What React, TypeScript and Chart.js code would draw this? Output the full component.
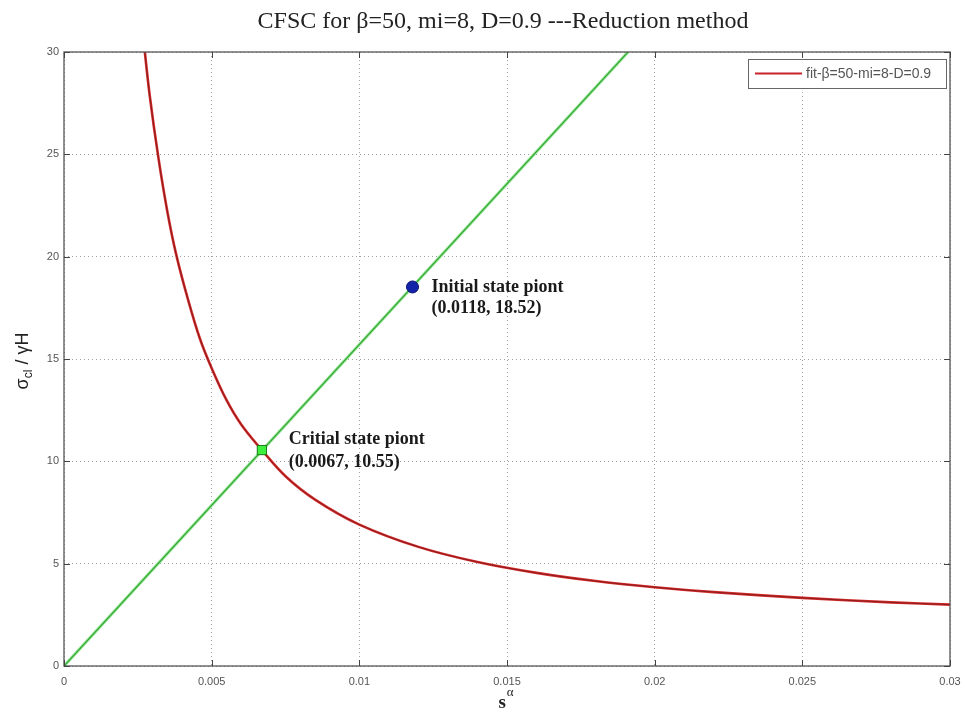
import React, { useEffect, useRef } from 'react';
import { Chart, registerables } from 'chart.js';

Chart.register(...registerables);

const chartTitle = 'CFSC for β=50, mi=8, D=0.9 ---Reduction method';
const legendLabel = 'fit-β=50-mi=8-D=0.9';

const xTickValues = [0, 0.005, 0.01, 0.015, 0.02, 0.025, 0.03];
const xTickLabels = ['0', '0.005', '0.01', '0.015', '0.02', '0.025', '0.03'];
const yTickValues = [0, 5, 10, 15, 20, 25, 30];
const yTickLabels = ['0', '5', '10', '15', '20', '25', '30'];

// red fitted curve
const fitX = [0.0027, 0.0029, 0.0032, 0.0035, 0.0038, 0.0042, 0.0046, 0.005, 0.0055, 0.006, 0.0067, 0.0075, 0.0085, 0.01, 0.012, 0.014, 0.016, 0.018, 0.02, 0.022, 0.025, 0.028, 0.03];
const fitY = [30.5, 27.9, 24.8, 22.2, 20.1, 17.9, 16.0, 14.55, 13.0, 11.8, 10.55, 9.27, 8.13, 6.91, 5.82, 5.08, 4.55, 4.15, 3.85, 3.61, 3.33, 3.11, 3.0];

// green straight line through the origin
const lineX = [0, 0.0191];
const lineY = [0, 30];

const initialState = { x: 0.0118, y: 18.52 };
const criticalState = { x: 0.0067, y: 10.55 };
const initialLabel = ['Initial state piont', '(0.0118, 18.52)'];
const criticalLabel = ['Critial state piont', '(0.0067, 10.55)'];

const overlayPlugin = {
  id: 'overlay',
  afterDraw(chart: any) {
    const { ctx, chartArea: a, scales } = chart;
    const x = scales.x;
    const y = scales.y;
    ctx.save();
    // box
    ctx.strokeStyle = '#555';
    ctx.lineWidth = 1.3;
    ctx.setLineDash([]);
    ctx.strokeRect(a.left, a.top, a.right - a.left, a.bottom - a.top);
    // inner ticks
    ctx.lineWidth = 1;
    ctx.strokeStyle = '#444';
    ctx.beginPath();
    xTickValues.forEach((v) => {
      const px = Math.round(x.getPixelForValue(v)) + 0.5;
      ctx.moveTo(px, a.bottom);
      ctx.lineTo(px, a.bottom - 6);
      ctx.moveTo(px, a.top);
      ctx.lineTo(px, a.top + 6);
    });
    yTickValues.forEach((v) => {
      const py = Math.round(y.getPixelForValue(v)) + 0.5;
      ctx.moveTo(a.left, py);
      ctx.lineTo(a.left + 6, py);
      ctx.moveTo(a.right, py);
      ctx.lineTo(a.right - 6, py);
    });
    ctx.stroke();

    // title
    ctx.fillStyle = '#222';
    ctx.font = '24px "Liberation Serif", "Times New Roman", serif';
    ctx.textAlign = 'center';
    ctx.textBaseline = 'middle';
    ctx.fillText(chartTitle, 503, 22);

    // x axis label s^α
    ctx.textAlign = 'left';
    ctx.textBaseline = 'alphabetic';
    ctx.font = 'bold 19px "Liberation Serif", serif';
    const sW = ctx.measureText('s').width;
    ctx.font = '13px "Liberation Serif", serif';
    const aW = ctx.measureText('α').width;
    const sx = 506 - (sW + aW + 1) / 2;
    ctx.font = 'bold 19px "Liberation Serif", serif';
    ctx.fillText('s', sx, 708);
    ctx.font = '13px "Liberation Serif", serif';
    ctx.fillText('α', sx + sW + 1, 696);

    // y axis label σcl / γH
    ctx.save();
    ctx.translate(22, 361);
    ctx.rotate(-Math.PI / 2);
    ctx.fillStyle = '#222';
    const big = '18px "Liberation Sans", Arial, sans-serif';
    const small = '12px "Liberation Sans", Arial, sans-serif';
    ctx.font = big;
    const w1 = ctx.measureText('σ').width;
    const w3 = ctx.measureText(' / γH').width;
    ctx.font = small;
    const w2 = ctx.measureText('cl').width;
    let cx = -(w1 + w2 + w3) / 2;
    ctx.font = big;
    ctx.fillText('σ', cx, 6);
    cx += w1;
    ctx.font = small;
    ctx.fillText('cl', cx, 10);
    cx += w2;
    ctx.font = big;
    ctx.fillText(' / γH', cx, 6);
    ctx.restore();

    // legend
    const lr = a.right - 4;
    const ll = lr - 198;
    ctx.fillStyle = '#fff';
    ctx.fillRect(ll, 59, 198, 29);
    ctx.strokeStyle = '#666';
    ctx.lineWidth = 1;
    ctx.strokeRect(ll + 0.5, 59.5, 198, 29);
    ctx.strokeStyle = '#c8232b';
    ctx.lineWidth = 2;
    ctx.beginPath();
    ctx.moveTo(ll + 7, 73.5);
    ctx.lineTo(ll + 54, 73.5);
    ctx.stroke();
    ctx.fillStyle = '#555';
    ctx.font = '14px "Liberation Sans", Arial, sans-serif';
    ctx.textBaseline = 'middle';
    ctx.fillText(legendLabel, ll + 58, 74);

    // annotations
    ctx.fillStyle = '#1a1a1a';
    ctx.font = 'bold 18px "Liberation Serif", "Times New Roman", serif';
    ctx.textAlign = 'left';
    ctx.textBaseline = 'middle';
    const ip = { x: x.getPixelForValue(initialState.x), y: y.getPixelForValue(initialState.y) };
    ctx.fillText(initialLabel[0], ip.x + 19, ip.y);
    ctx.fillText(initialLabel[1], ip.x + 19, ip.y + 21);
    const cp = { x: x.getPixelForValue(criticalState.x), y: y.getPixelForValue(criticalState.y) };
    ctx.fillText(criticalLabel[0], cp.x + 27, cp.y - 11);
    ctx.fillText(criticalLabel[1], cp.x + 27, cp.y + 12);
    ctx.restore();
  },
};

export default function App() {
  const ref = useRef<HTMLCanvasElement | null>(null);
  useEffect(() => {
    if (!ref.current) return;
    const fitData = fitX.map((v, i) => ({ x: v, y: fitY[i] }));
    const lineData = lineX.map((v, i) => ({ x: v, y: lineY[i] }));
    const chart = new Chart(ref.current, {
      type: 'line',
      data: {
        datasets: [
          {
            label: 'initial',
            data: [initialState],
            showLine: false,
            pointStyle: 'circle',
            pointRadius: 6,
            backgroundColor: '#1424a8',
            borderColor: '#0a1470',
            borderWidth: 1,
            order: 0,
          },
          {
            label: 'critical',
            data: [criticalState],
            showLine: false,
            pointStyle: 'rect',
            pointRadius: 6.5,
            backgroundColor: '#3ef03e',
            borderColor: '#1a7a1a',
            borderWidth: 1,
            order: 1,
          },
          {
            label: legendLabel,
            data: fitData,
            borderColor: '#d42a2a',
            borderWidth: 2.6,
            pointRadius: 0,
            tension: 0.35,
            order: 3,
          },
          {
            label: 'fit core',
            data: fitData,
            borderColor: '#8b1c1c',
            borderWidth: 1,
            pointRadius: 0,
            tension: 0.35,
            order: 2,
          },
          {
            label: 'line',
            data: lineData,
            borderColor: '#8ee48e',
            borderWidth: 3,
            pointRadius: 0,
            order: 5,
          },
          {
            label: 'line core',
            data: lineData,
            borderColor: '#2f9f2f',
            borderWidth: 1.1,
            pointRadius: 0,
            order: 4,
          },
        ],
      },
      options: {
        responsive: false,
        maintainAspectRatio: false,
        animation: false,
        devicePixelRatio: 1,
        layout: { padding: { top: 52, right: 15, left: 0, bottom: 0 } },
        plugins: {
          legend: { display: false },
          tooltip: { enabled: false },
          title: { display: false },
        },
        scales: {
          x: {
            type: 'linear',
            min: 0,
            max: 0.03,
            afterBuildTicks: (s: any) => {
              s.ticks = xTickValues.map((v) => ({ value: v }));
            },
            afterFit: (s: any) => {
              s.height = 48;
              s.paddingRight = 0;
              s.paddingLeft = 0;
            },
            ticks: {
              callback: (_v: any, i: number) => xTickLabels[i],
              color: '#555',
              font: { family: '"Liberation Sans", Arial, sans-serif', size: 11 },
              padding: 9,
              maxRotation: 0,
            },
            grid: { color: '#a0a0a0', lineWidth: 1, drawTicks: false },
            border: { display: false, dash: [1, 3] },
          },
          y: {
            type: 'linear',
            min: 0,
            max: 30,
            afterBuildTicks: (s: any) => {
              s.ticks = yTickValues.map((v) => ({ value: v }));
            },
            afterFit: (s: any) => {
              s.width = 64;
            },
            ticks: {
              callback: (_v: any, i: number) => yTickLabels[i],
              color: '#555',
              font: { family: '"Liberation Sans", Arial, sans-serif', size: 11 },
              padding: 5,
            },
            grid: { color: '#a0a0a0', lineWidth: 1, drawTicks: false },
            border: { display: false, dash: [1, 3] },
          },
        },
      },
      plugins: [overlayPlugin],
    });
    return () => chart.destroy();
  }, []);
  return (
    <div style={{ position: 'fixed', left: 0, top: 0, width: 965, height: 714, background: '#fff' }}>
      <canvas ref={ref} width={965} height={714} style={{ display: 'block', width: 965, height: 714 }} />
    </div>
  );
}
